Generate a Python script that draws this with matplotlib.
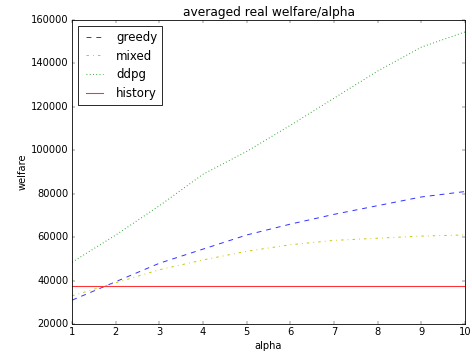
import matplotlib
matplotlib.use('Agg')
import matplotlib.pyplot as plt

plt.style.use('classic')

# данные
alpha = [1, 2, 3, 4, 5, 6, 7, 8, 9, 10]
greedy = [31000, 39500, 48000, 54500, 61000, 66000, 70500, 74500, 78500, 81000]
mixed = [33000, 39000, 45000, 49500, 53500, 56500, 58500, 59500, 60500, 61000]
ddpg = [48500, 61000, 74500, 89000, 99500, 111500, 124000, 136500, 147500, 154500]
history = 37400

fig = plt.figure(figsize=(8, 6.068), dpi=59)
ax = fig.add_subplot(111)
fig.subplots_adjust(left=0.153, right=0.985, top=0.944, bottom=0.095)

ax.plot(alpha, greedy, '--', color='#3333ff', lw=1.2, label='greedy')
ax.plot(alpha, mixed, '-.', color='#c8c800', lw=1.2, label='mixed')
ax.plot(alpha, ddpg, ':', color='#22a022', lw=1.3, label='ddpg')
ax.axhline(history, color='#ff3333', lw=1.3, label='history')

ax.set_xlim(1, 10)
ax.set_ylim(20000, 160000)
ax.set_title('averaged real welfare/alpha', fontsize=15)
ax.set_xlabel('alpha')
ax.set_ylabel('welfare')
ax.legend(loc='upper left')

fig.savefig('out.png', dpi=59)
